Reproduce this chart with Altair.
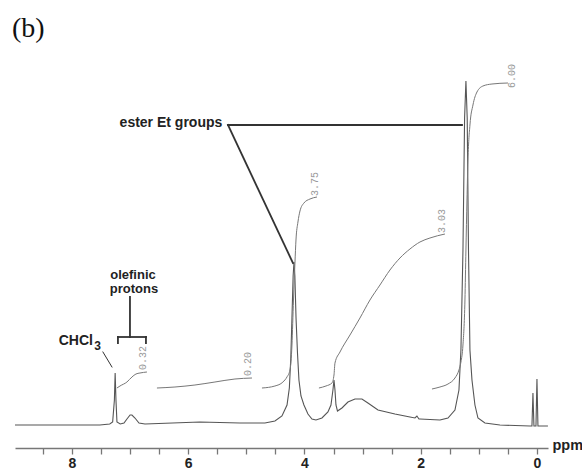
import altair as alt
import pandas as pd

# ---------------- spectrum trace (ppm, intensity in arbitrary units) ----------------
spec_ppm = [8.98, 7.52, 7.35, 7.30, 7.27, 7.257, 7.243, 7.226, 7.17, 7.105, 7.054, 7.00,
            6.968, 6.916, 6.847, 6.744, 5.80, 5.11, 4.68, 4.508, 4.387, 4.30, 4.26, 4.235,
            4.215, 4.195, 4.18, 4.165, 4.145, 4.12, 4.095, 4.06, 4.009, 3.940, 3.871, 3.802,
            3.699, 3.596, 3.544, 3.510, 3.492, 3.475, 3.458, 3.432, 3.355, 3.252, 3.131,
            3.011, 2.908, 2.735, 2.443, 2.185, 2.099, 2.065, 2.030, 2.013, 1.669, 1.531,
            1.411, 1.342, 1.308, 1.273, 1.245, 1.222, 1.200, 1.178, 1.153, 1.118, 1.067,
            1.015, 0.895, 0.637, 0.120, 0.086, 0.069, 0.052, 0.017, 0.0, -0.017, -0.189]
spec_int = [23, 23, 24, 26, 48, 75, 48, 26, 24, 25, 29, 33,
            33, 30, 25, 24, 26, 25, 25, 27, 32, 43, 60, 90,
            130, 172, 186, 172, 130, 95, 68, 52, 43, 34, 29, 28,
            30, 36, 43, 58, 68, 58, 43, 37, 40, 46, 49,
            49, 45, 38, 34, 31, 30, 32, 29, 29, 28, 30,
            38, 58, 98, 198, 330, 367, 330, 198, 98, 68, 43,
            30, 25, 23, 22, 22, 55, 22, 22, 69, 22, 22]

# ---------------- integral curves ----------------
int1_ppm = [7.226, 7.174, 7.054, 6.968, 6.899, 6.830, 6.710]
int1_val = [60, 62, 66, 71, 74, 75, 76]
int2_ppm = [6.538, 6.228, 5.884, 5.540, 5.196, 4.903]
int2_val = [60, 61, 63, 66, 69, 70]
int3_ppm = [4.731, 4.508, 4.370, 4.301, 4.249, 4.215, 4.189, 4.163, 4.146, 4.112, 4.077, 4.009, 3.905, 3.785]
int3_val = [60, 62, 66, 71, 78, 103, 148, 186, 208, 226, 237, 245, 249, 251]
int4_ppm = [3.751, 3.630, 3.527, 3.492, 3.475, 3.389, 3.217, 3.045, 2.873, 2.701, 2.529, 2.357, 2.185, 2.013, 1.841, 1.583]
int4_val = [60, 62, 65, 73, 85, 96, 113, 130, 148, 163, 178, 190, 199, 206, 210, 214]
int5_ppm = [1.806, 1.669, 1.531, 1.411, 1.342, 1.308, 1.273, 1.239, 1.222, 1.204, 1.187, 1.153, 1.101, 1.032, 0.929, 0.774, 0.499]
int5_val = [59, 61, 64, 70, 78, 86, 103, 148, 198, 248, 288, 323, 343, 356, 362, 364, 365]

int_lab_text = ["0.32", "0.20", "3.75", "3.03", "6.00"]
int_lab_ppm = [6.778, 4.972, 3.819, 1.634, 0.430]
int_lab_val = [90, 84, 264, 227, 372]

# ---------------- annotations ----------------
ann_text = ["ester Et groups", "olefinic", "protons", "CHCl"]
ann_ppm = [6.297, 6.950, 6.933, 7.933]
ann_val = [321, 169, 155, 103]
ann_size = [14, 13, 13, 14]
sub_text = ["3"]
sub_ppm = [7.561]
sub_val = [98]

seg_x1 = [5.316, 5.316, 7.002, 7.209, 7.209, 6.727, 7.467]
seg_x2 = [1.290, 4.198, 7.002, 6.727, 7.209, 6.727, 7.312]
seg_y1 = [323, 323, 151, 111, 111, 111, 96]
seg_y2 = [323, 185, 111, 111, 105, 105, 81]
seg_w = [1.8, 1.8, 1.8, 1.8, 1.8, 1.8, 1.0]

panel_text = ["(b)"]
panel_ppm = [9.032]
panel_val = [411]

tick_values = [i * 0.5 for i in range(18)]

# ---------------- build tables ----------------
spec_df = pd.DataFrame({"ppm": spec_ppm, "v": spec_int})
rows = []
for cid, (xs_, ys_) in enumerate([(int1_ppm, int1_val), (int2_ppm, int2_val), (int3_ppm, int3_val),
                                  (int4_ppm, int4_val), (int5_ppm, int5_val)]):
    for x, y in zip(xs_, ys_):
        rows.append({"ppm": x, "v": y, "curve": cid})
int_df = pd.DataFrame(rows)
lab_df = pd.DataFrame({"ppm": int_lab_ppm, "v": int_lab_val, "t": int_lab_text})
ann_df = pd.DataFrame({"ppm": ann_ppm, "v": ann_val, "t": ann_text, "s": ann_size})
sub_df = pd.DataFrame({"ppm": sub_ppm, "v": sub_val, "t": sub_text})
seg_df = pd.DataFrame({"ppm": seg_x1, "ppm2": seg_x2, "v": seg_y1, "v2": seg_y2, "w": seg_w})
panel_df = pd.DataFrame({"ppm": panel_ppm, "v": panel_val, "t": panel_text})

xs = alt.Scale(domain=[-0.19, 8.98], reverse=True, nice=False, zero=False)
ys = alt.Scale(domain=[0, 388], nice=False, zero=False)

xaxis = alt.Axis(values=tick_values,
                 labelExpr="datum.value % 2 == 0 ? format(datum.value, 'd') : ''",
                 grid=False, domainColor="#777", domainWidth=1.5,
                 tickColor="#777", tickWidth=1.3, tickSize=6,
                 labelFont="Liberation Sans", labelFontWeight="bold", labelFontSize=14,
                 labelColor="#222", labelPadding=2, labelFlush=False, labelOverlap=False,
                 title="ppm", titleFont="Liberation Sans", titleFontWeight="bold",
                 titleFontSize=14.5, titleColor="#222", titleX=537, titleY=1,
                 titleAlign="left", titleBaseline="alphabetic", titleAngle=0)


def X(field="ppm"):
    return alt.X(f"{field}:Q", scale=xs, axis=xaxis)


def Y(field="v"):
    return alt.Y(f"{field}:Q", scale=ys, axis=None)


spec = alt.Chart(spec_df).mark_line(color="#555", strokeWidth=1.1).encode(x=X(), y=Y())

integ = alt.Chart(int_df).mark_line(color="#777", strokeWidth=1.0, interpolate="monotone").encode(
    x=X(), y=Y(), detail="curve:N")

int_labels = alt.Chart(lab_df).mark_text(font="Liberation Mono", fontSize=10, color="#999",
                                         angle=270, align="center", baseline="middle").encode(
    x=X(), y=Y(), text="t:N")

segs = alt.Chart(seg_df).mark_rule(color="#333", strokeCap="square").encode(
    x=X(), x2="ppm2:Q", y=Y(), y2="v2:Q", strokeWidth=alt.StrokeWidth("w:Q", scale=None))

ann = alt.Chart(ann_df).mark_text(font="Liberation Sans", fontWeight="bold",
                                  color="#222", align="center", baseline="alphabetic").encode(
    x=X(), y=Y(), text="t:N", size=alt.Size("s:Q", scale=None))

sub = alt.Chart(sub_df).mark_text(font="Liberation Sans", fontWeight="bold", fontSize=12,
                                  color="#222", align="center", baseline="alphabetic").encode(
    x=X(), y=Y(), text="t:N")

panel = alt.Chart(panel_df).mark_text(font="Liberation Serif", fontSize=28, color="#111",
                                      align="left", baseline="alphabetic").encode(
    x=X(), y=Y(), text="t:N")

chart = alt.layer(spec, integ, int_labels, segs, ann, sub, panel).properties(
    width=533, height=388,
    autosize=alt.AutoSizeParams(type="none"),
    padding={"left": 15, "top": 60, "right": 34, "bottom": 22},
    background="white",
).configure_view(stroke=None)

chart.save("out.html", embed_options={"renderer": "svg", "actions": False})
